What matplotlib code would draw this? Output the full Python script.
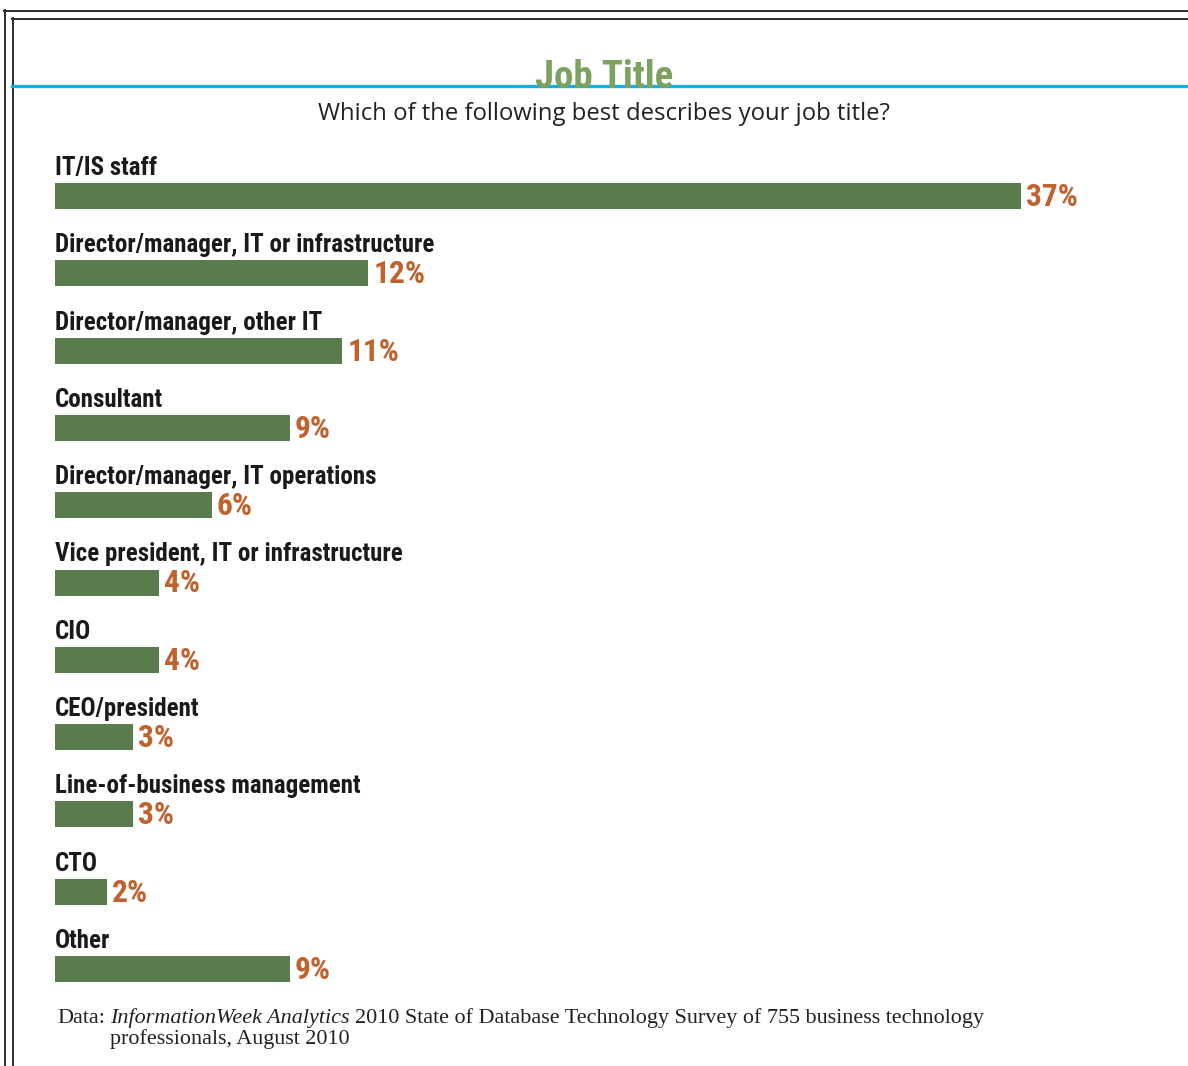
import matplotlib
matplotlib.use("Agg")
import matplotlib.pyplot as plt
from matplotlib import font_manager as fm
from matplotlib.lines import Line2D

categories = [
    "IT/IS staff",
    "Director/manager, IT or infrastructure",
    "Director/manager, other IT",
    "Consultant",
    "Director/manager, IT operations",
    "Vice president, IT or infrastructure",
    "CIO",
    "CEO/president",
    "Line-of-business management",
    "CTO",
    "Other",
]
percents = [37, 12, 11, 9, 6, 4, 4, 3, 3, 2, 9]

title = "Job Title"
question = "Which of the following best describes your job title?"
source_lines = [
    "InformationWeek Analytics",
    "2010 State of Database Technology Survey of 755 business technology",
    "professionals, August 2010",
]

BAR_GREEN = "#5a7b4b"
VALUE_ORANGE = "#c0622e"
TITLE_GREEN = "#7ba25f"
RULE_BLUE = "#12aeea"
INK = "#1a1a1a"


def narrow_font(bold=True):
    """Pick an installed condensed face, else plain DejaVu Sans."""
    prefs = ["liberation sans narrow", "roboto condensed", "open sans condensed",
             "dejavu sans condensed", "noto sans condensed"]
    found = []
    for f in fm.fontManager.ttflist:
        key = (f.name + " " + f.fname).lower()
        cond = ("narrow" in key or "condensed" in key
                or str(f.stretch) in ("condensed", "semi-condensed", "extra-condensed"))
        if not cond or "mono" in key or "italic" in key or "oblique" in key:
            continue
        w = f.weight if isinstance(f.weight, int) else (700 if "bold" in str(f.weight) else 400)
        rank = next((i for i, p in enumerate(prefs) if p in key), len(prefs))
        found.append((rank, abs(w - (700 if bold else 400)), f.fname))
    if found:
        found.sort()
        return fm.FontProperties(fname=found[0][2])
    return fm.FontProperties(family="DejaVu Sans", weight="bold" if bold else "normal")


NARROW_BOLD = narrow_font(True)

W, H = 1188, 1066
fig = plt.figure(figsize=(W / 100, H / 100), dpi=100)
renderer = fig.canvas.get_renderer()


def fit_width(txt, target_px):
    # rescale a text so its rendered width matches target_px
    w = txt.get_window_extent(renderer).width
    txt.set_fontsize(txt.get_fontsize() * target_px / w)


def px_line(x0, y0, x1, y1, **kw):
    fig.add_artist(Line2D([x0 / W, x1 / W], [1 - y0 / H, 1 - y1 / H],
                          transform=fig.transFigure, **kw))


# double frame and the blue rule under the title
px_line(4, 10.5, W, 10.5, color="#2a2a2a", lw=1.4)
px_line(4.5, 10, 4.5, H, color="#2a2a2a", lw=1.4)
px_line(12, 18.5, W, 18.5, color="#2a2a2a", lw=1.4)
px_line(12.5, 18, 12.5, H, color="#2a2a2a", lw=1.4)
px_line(12, 86, W, 86, color=RULE_BLUE, lw=2.4)

t = fig.text(604 / W, 1 - 88 / H, title, ha="center", va="baseline",
             color=TITLE_GREEN, fontproperties=NARROW_BOLD)
t.set_fontsize(30)
fit_width(t, 138)

q = fig.text(604 / W, 1 - 120 / H, question, ha="center", va="baseline",
             fontsize=17, color="#222222", family=["Open Sans", "DejaVu Sans"])
fit_width(q, 572)

# source note in serif, second line indented
serif = ["Liberation Serif", "DejaVu Serif"]
fs_note = 15.9
fig.text(57 / W, 1 - 1023 / H, "Data:", ha="left", va="baseline",
         fontsize=fs_note, color="#222222", family=serif)
it = fig.text(110 / W, 1 - 1023 / H, source_lines[0], ha="left", va="baseline",
              fontsize=fs_note, color="#222222", family=serif, style="italic")
bb = it.get_window_extent(renderer)
fig.text((bb.x1 + 5) / W, 1 - 1023 / H, source_lines[1],
         ha="left", va="baseline", fontsize=fs_note, color="#222222", family=serif)
fig.text(110 / W, 1 - 1044 / H, source_lines[2],
         ha="left", va="baseline", fontsize=fs_note, color="#222222", family=serif)

# bar area: x in percent, y in pixel rows
px_per_pct = (1021 - 55) / 37
ax = fig.add_axes([55 / W, 0, (W - 55) / W, 1])
ax.set_xlim(0, (W - 55) / px_per_pct)
ax.set_ylim(H, 0)
ax.axis("off")

row0, row_step, bar_h = 196, 77.3, 26
centers = [row0 + i * row_step for i in range(len(categories))]
ax.barh(centers, percents, height=bar_h, color=BAR_GREEN, left=0)

name_texts, value_texts = [], []
for y, name, p in zip(centers, categories, percents):
    nt = ax.text(0, y - bar_h / 2 - 8, name, ha="left", va="baseline",
                 color=INK, fontproperties=NARROW_BOLD)
    nt.set_fontsize(20)
    vt = ax.text(p + 5 / px_per_pct, y + 10, f"{p}%", ha="left", va="baseline",
                 color=VALUE_ORANGE, fontproperties=NARROW_BOLD)
    vt.set_fontsize(20)
    name_texts.append(nt)
    value_texts.append(vt)

# size labels from the longest category and the widest value
fit_width(name_texts[1], 378)
fit_width(value_texts[0], 52)
for nt in name_texts:
    nt.set_fontsize(name_texts[1].get_fontsize())
for vt in value_texts:
    vt.set_fontsize(value_texts[0].get_fontsize())

fig.savefig("out.png", dpi=100, facecolor="white")
